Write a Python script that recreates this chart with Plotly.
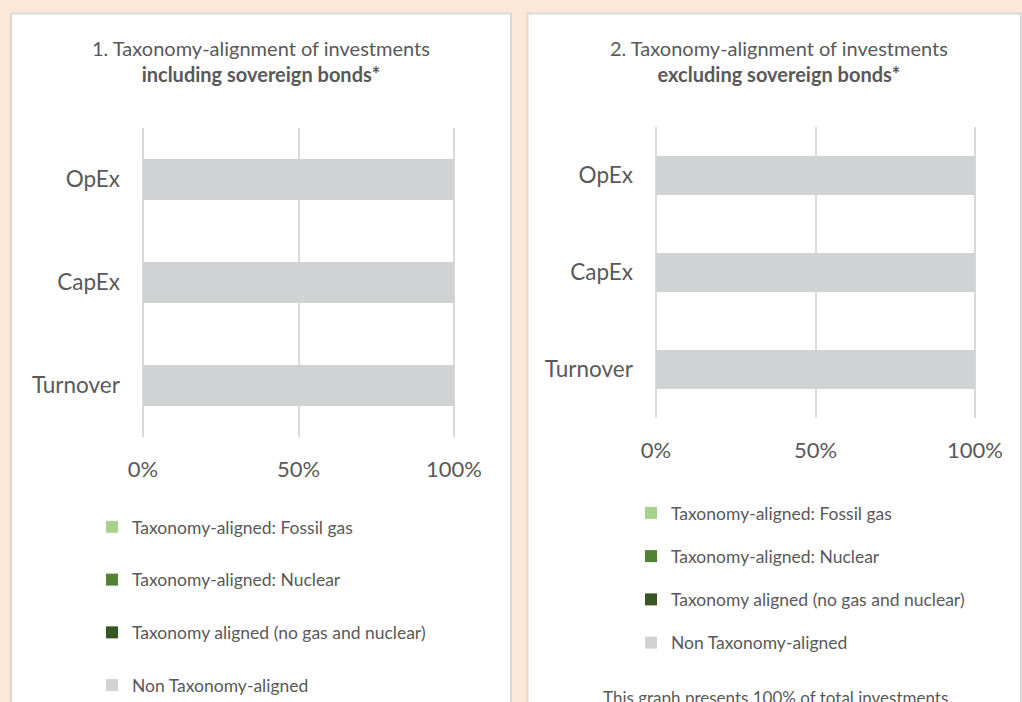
import plotly.graph_objects as go

W, H = 1022, 702

# ---- data ----
categories = ["Turnover", "CapEx", "OpEx"]
series_names = [
    "Taxonomy-aligned: Fossil gas",
    "Taxonomy-aligned: Nuclear",
    "Taxonomy aligned (no gas and nuclear)",
    "Non Taxonomy-aligned",
]
series_colors = ["#A9D18E", "#548235", "#375623", "#D1D2D4"]

incl_fossil_gas = [0, 0, 0]
incl_nuclear = [0, 0, 0]
incl_aligned = [0, 0, 0]
incl_non_aligned = [100, 100, 100]

excl_fossil_gas = [0, 0, 0]
excl_nuclear = [0, 0, 0]
excl_aligned = [0, 0, 0]
excl_non_aligned = [100, 100, 100]

x_tick_vals = [0, 50, 100]
x_tick_text = ["0%", "50%", "100%"]

title_1 = "1. Taxonomy-alignment of investments<br><b>including sovereign bonds*</b>"
title_2 = "2. Taxonomy-alignment of investments<br><b>excluding sovereign bonds*</b>"
footnote = "This graph presents 100% of total investments."

FONT = "Lato, 'Open Sans', sans-serif"
TXT = "#595959"
GRID = "#D9D9D9"
BG = "#FBE8D8"


def px_x(p):
    return p / W


def px_y(p):
    return 1 - p / H


fig = go.Figure()

incl = [incl_fossil_gas, incl_nuclear, incl_aligned, incl_non_aligned]
excl = [excl_fossil_gas, excl_nuclear, excl_aligned, excl_non_aligned]

for i, (name, color) in enumerate(zip(series_names, series_colors)):
    fig.add_trace(go.Bar(
        y=categories, x=incl[i], orientation="h", name=name,
        marker=dict(color=color, line=dict(width=0)),
        xaxis="x", yaxis="y", legend="legend", legendgroup=f"a{i}",
    ))
for i, (name, color) in enumerate(zip(series_names, series_colors)):
    fig.add_trace(go.Bar(
        y=categories, x=excl[i], orientation="h", name=name,
        marker=dict(color=color, line=dict(width=0)),
        xaxis="x2", yaxis="y2", legend="legend2", legendgroup=f"b{i}",
    ))

PAD = 0.5
xaxis_common = dict(
    range=[-PAD, 100 + PAD], tickvals=x_tick_vals, ticktext=x_tick_text,
    showgrid=True, gridcolor=GRID, gridwidth=2, zeroline=False, showline=False,
    ticks="outside", ticklen=13, tickcolor="rgba(0,0,0,0)", automargin=False,
    tickfont=dict(family=FONT, size=22, color=TXT), fixedrange=True,
)
yaxis_common = dict(
    range=[-0.5, 2.5], showgrid=False, zeroline=False, showline=False,
    ticks="outside", ticklen=16, tickcolor="rgba(0,0,0,0)", automargin=False,
    tickfont=dict(family=FONT, size=22.5, color=TXT), fixedrange=True,
)

legend_common = dict(
    orientation="v", traceorder="grouped", bgcolor="rgba(0,0,0,0)",
    font=dict(family=FONT, size=17.5, color=TXT), xanchor="left", yanchor="top",
    itemclick=False, itemdoubleclick=False,
)


def xdom(p0, p100):
    u = (p100 - p0) / 100.0
    return [px_x(p0 - PAD * u), px_x(p100 + PAD * u)]


fig.update_layout(
    width=W, height=H,
    margin=dict(l=0, r=0, t=0, b=0, autoexpand=False),
    paper_bgcolor=BG, plot_bgcolor="rgba(0,0,0,0)",
    barmode="stack", bargap=0.6, showlegend=True,
    xaxis=dict(domain=xdom(143, 454), anchor="y", **xaxis_common),
    yaxis=dict(domain=[px_y(437), px_y(128)], anchor="x", **yaxis_common),
    xaxis2=dict(domain=xdom(656, 975), anchor="y2", **xaxis_common),
    yaxis2=dict(domain=[px_y(418), px_y(127)], anchor="x2", **yaxis_common),
    legend=dict(x=px_x(92), y=px_y(509), tracegroupgap=27, **legend_common),
    legend2=dict(x=px_x(631), y=px_y(495), tracegroupgap=17.5, **legend_common),
    shapes=[
        dict(type="rect", xref="paper", yref="paper", layer="below",
             x0=px_x(11), x1=px_x(511), y0=-0.1, y1=px_y(13.5),
             fillcolor="white", line=dict(color="#D9D9D9", width=2)),
        dict(type="rect", xref="paper", yref="paper", layer="below",
             x0=px_x(527.5), x1=px_x(1021), y0=-0.1, y1=px_y(13.5),
             fillcolor="white", line=dict(color="#D9D9D9", width=2)),
    ],
    annotations=[
        dict(text=title_1, xref="paper", yref="paper", x=px_x(261), y=px_y(61),
             xanchor="center", yanchor="middle", showarrow=False, align="center",
             font=dict(family=FONT, size=20, color=TXT)),
        dict(text=title_2, xref="paper", yref="paper", x=px_x(779), y=px_y(61),
             xanchor="center", yanchor="middle", showarrow=False, align="center",
             font=dict(family=FONT, size=20, color=TXT)),
        dict(text=footnote, xref="paper", yref="paper", x=px_x(777), y=px_y(697),
             xanchor="center", yanchor="middle", showarrow=False,
             font=dict(family=FONT, size=17, color=TXT)),
    ],
)

fig.write_html(
    "out.html",
    config={"displayModeBar": False, "responsive": False},
    post_script="document.body.style.margin='0';document.body.style.overflow='hidden';",
)
